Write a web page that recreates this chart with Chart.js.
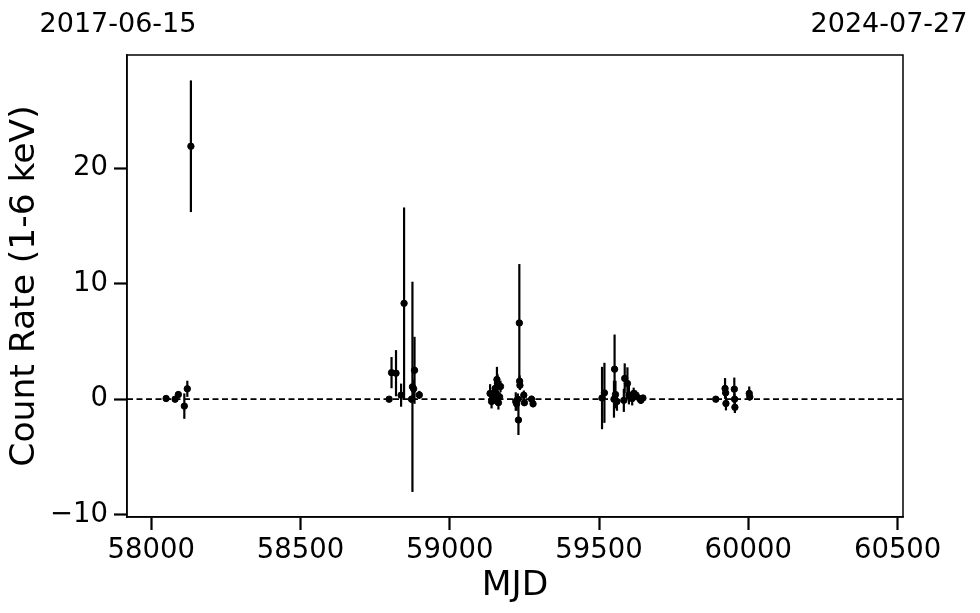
<!DOCTYPE html>
<html>
<head>
<meta charset="utf-8">
<script src="https://cdn.jsdelivr.net/npm/chart.js@4.4.1/dist/chart.umd.min.js"></script>
<style>
  html, body { margin: 0; padding: 0; background: #fff; }
  #wrap { width: 980px; height: 613px; }
</style>
</head>
<body>
<div id="wrap"><canvas id="lc"></canvas></div>
<script>
// light curve: MJD, count rate (1-6 keV) and 1-sigma error
const mjd = [
  58050, 58080, 58091, 58111, 58121, 58133,
  58797, 58805, 58820, 58837, 58847, 58872, 58875, 58879, 58882, 58898,
  59135, 59140, 59145, 59148, 59152, 59155, 59158, 59160, 59163, 59167, 59170,
  59221, 59224, 59228, 59230, 59233, 59234, 59235, 59248, 59250, 59274, 59279,
  59510, 59518, 59550, 59552, 59555, 59560, 59583, 59586, 59595, 59600, 59611,
  59616, 59624, 59636, 59640, 59647,
  59891, 59922, 59924, 59925, 59953, 59954, 59955, 60003, 60005
];
const rate = [
  0.06, 0.0, 0.4, -0.6, 0.9, 21.9,
  0.0, 2.3, 2.25, 0.35, 8.3, 0.0, 1.07, 0.9, 2.5, 0.37,
  0.5, -0.2, 0.3, 0.0, 0.93, 0.5, 1.7, 1.36, -0.3, 0.2, 1.1,
  -0.2, -0.4, 0.0, -1.8, 6.6, 1.56, 1.2, 0.35, -0.3, 0.0, -0.4,
  0.1, 0.55, 0.0, 2.6, 0.4, -0.2, -0.1, 1.8, 1.36, 0.35, 0.06,
  0.5, 0.35, 0.06, -0.1, 0.1,
  0.0, 0.93, 0.55, -0.37, 0.87, 0.0, -0.7, 0.5, 0.2
];
const rateErr = [
  0.15, 0.2, 0.3, 1.1, 0.7, 5.7,
  0.15, 1.35, 2.0, 1.0, 8.3, 0.3, 9.1, 0.8, 2.9, 0.35,
  0.8, 0.6, 0.5, 0.4, 0.7, 0.9, 1.1, 0.8, 0.6, 0.4, 0.5,
  0.8, 0.6, 0.5, 1.3, 5.1, 0.5, 0.4, 0.4, 0.3, 0.3, 0.3,
  2.7, 2.6, 1.6, 3.0, 1.2, 0.8, 1.0, 1.3, 1.4, 0.8, 0.6,
  0.5, 0.4, 0.3, 0.3, 0.2,
  0.15, 0.9, 0.5, 0.6, 1.0, 0.5, 0.5, 0.6, 0.3
];

const xRange = [57919, 60518];
const yRange = [-10.2, 29.8];
const xTicks = [58000, 58500, 59000, 59500, 60000, 60500];
const yTicks = [-10, 0, 10, 20];
const startDate = "2017-06-15";
const endDate = "2024-07-27";

Chart.defaults.font.family = "'DejaVu Sans', sans-serif";
Chart.defaults.color = "#000";

// plain numbers, real minus sign like matplotlib
function tickText(v) {
  return v < 0 ? "\u2212" + Math.abs(v) : String(v);
}

// vertical error bars, drawn with the chart's own scales
const errorBars = {
  id: "errorBars",
  beforeDatasetsDraw(chart) {
    const ctx = chart.ctx;
    const xs = chart.scales.x, ys = chart.scales.y;
    ctx.save();
    ctx.strokeStyle = "#000";
    ctx.lineWidth = 2.2;
    for (let i = 0; i < mjd.length; i++) {
      const px = xs.getPixelForValue(mjd[i]);
      ctx.beginPath();
      ctx.moveTo(px, ys.getPixelForValue(rate[i] - rateErr[i]));
      ctx.lineTo(px, ys.getPixelForValue(rate[i] + rateErr[i]));
      ctx.stroke();
    }
    ctx.restore();
  }
};

// box round the plot and the two date labels above it
const frame = {
  id: "frame",
  afterDraw(chart) {
    const { ctx, chartArea: a } = chart;
    ctx.save();
    ctx.strokeStyle = "#000";
    ctx.lineWidth = 1.5;
    ctx.strokeRect(a.left, a.top, a.right - a.left, a.bottom - a.top);
    ctx.fillStyle = "#000";
    ctx.font = "27px 'DejaVu Sans'";
    ctx.textAlign = "center";
    ctx.textBaseline = "alphabetic";
    ctx.fillText(startDate, a.left - 9, 32);
    ctx.fillText(endDate, a.right - 14, 32);
    ctx.restore();
  }
};

const tickGrid = {
  display: true,
  drawOnChartArea: false,
  drawTicks: true,
  tickLength: 13,
  tickWidth: 2.2,
  tickColor: "#000"
};

new Chart(document.getElementById("lc"), {
  type: "scatter",
  data: {
    datasets: [
      {
        label: "rate",
        data: mjd.map((m, i) => ({ x: m, y: rate[i] })),
        backgroundColor: "#000",
        borderColor: "#000",
        pointRadius: 3.2,
        pointHoverRadius: 3.2
      },
      {
        label: "zero",
        type: "line",
        data: [{ x: xRange[0], y: 0 }, { x: xRange[1], y: 0 }],
        borderColor: "#000",
        borderWidth: 1.8,
        borderDash: [6, 3.5],
        pointRadius: 0
      }
    ]
  },
  options: {
    responsive: true,
    maintainAspectRatio: false,
    animation: false,
    layout: { padding: { top: 55, right: 77, left: 0, bottom: 0 } },
    plugins: { legend: { display: false }, tooltip: { enabled: false } },
    scales: {
      x: {
        type: "linear",
        min: xRange[0],
        max: xRange[1],
        grid: tickGrid,
        border: { color: "#000", width: 1.5 },
        ticks: { font: { size: 27.5 }, padding: 4, maxRotation: 0, callback: tickText },
        afterBuildTicks: (s) => { s.ticks = xTicks.map(v => ({ value: v })); },
        afterFit: (s) => { s.height = 96; },
        title: { display: true, text: "MJD", font: { size: 34.5 }, padding: { top: 0, bottom: 6 } }
      },
      y: {
        type: "linear",
        min: yRange[0],
        max: yRange[1],
        grid: tickGrid,
        border: { color: "#000", width: 1.5 },
        ticks: { font: { size: 27.5 }, padding: 6, callback: tickText },
        afterBuildTicks: (s) => { s.ticks = yTicks.map(v => ({ value: v })); },
        afterFit: (s) => { s.width = 127; },
        title: { display: true, text: "Count Rate (1-6 keV)", font: { size: 34.5 }, padding: { top: 4, bottom: 0 } }
      }
    }
  },
  plugins: [errorBars, frame]
});
</script>
</body>
</html>
